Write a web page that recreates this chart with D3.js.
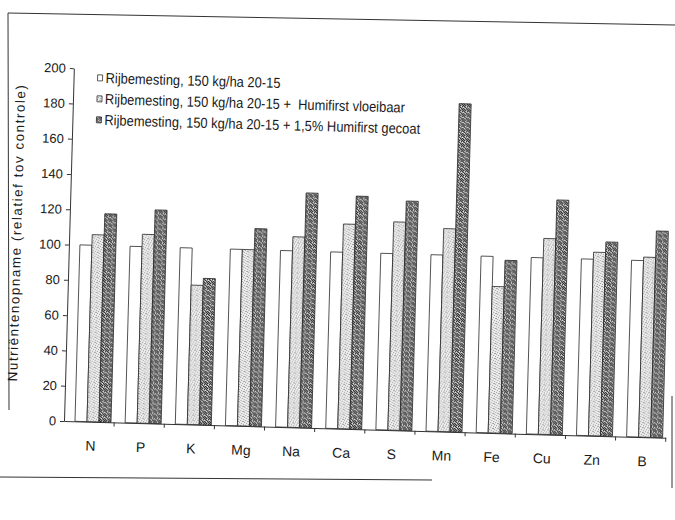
<!DOCTYPE html>
<html>
<head>
<meta charset="utf-8">
<script src="https://cdn.jsdelivr.net/npm/d3@7"></script>
<style>
  body { margin: 0; background: #fff; }
  svg text { font-family: "Liberation Sans", Arial, sans-serif; fill: #1a1a1a; }
</style>
</head>
<body>
<div id="chart"></div>
<script>
// categories (nutrients) and the three series
var categories = ["N", "P", "K", "Mg", "Na", "Ca", "S", "Mn", "Fe", "Cu", "Zn", "B"];
var seriesNames = [
  "Rijbemesting, 150 kg/ha 20-15",
  "Rijbemesting, 150 kg/ha 20-15 +  Humifirst vloeibaar",
  "Rijbemesting, 150 kg/ha 20-15 + 1,5% Humifirst gecoat"
];
var basis      = [100, 100, 100, 100, 100, 100, 100, 100, 100, 100, 100, 100];
var vloeibaar  = [106, 107, 79, 100, 108, 116, 118, 115, 83, 111, 104, 102];
var gecoat     = [118, 121, 83, 112, 133, 132, 130, 186, 98, 133, 110, 117];
var yTicks     = [0, 20, 40, 60, 80, 100, 120, 140, 160, 180, 200];
var yLabel     = "Nutriëntenopname (relatief tov controle)";

var seriesValues = [basis, vloeibaar, gecoat];

// flatten for the bars
var data = [];
categories.forEach(function(c, i) {
  seriesValues.forEach(function(vals, s) {
    data.push({cat: c, series: s, value: vals[i]});
  });
});

var W = 675, H = 520;
var origin = {x: 64, y: 421};

var svg = d3.select("#chart")
  .append("svg")
  .attr("width", W)
  .attr("height", H);

// stipple patterns like the printed greys
var defs = svg.append("defs");
var light = defs.append("pattern")
  .attr("id", "pLight").attr("patternUnits", "userSpaceOnUse")
  .attr("width", 5).attr("height", 5);
light.append("rect").attr("width", 5).attr("height", 5).attr("fill", "#ececec");
[[0,0],[2,1],[4,2],[1,3],[3,4],[3,1]].forEach(function(p) {
  light.append("rect").attr("x", p[0]).attr("y", p[1]).attr("width", 1).attr("height", 1).attr("fill", "#a0a0a0");
});

var dark = defs.append("pattern")
  .attr("id", "pDark").attr("patternUnits", "userSpaceOnUse")
  .attr("width", 5).attr("height", 5);
dark.append("rect").attr("width", 5).attr("height", 5).attr("fill", "#999999");
[[0,0],[3,0],[1,1],[4,2],[2,2],[0,3],[3,3],[1,4],[4,4]].forEach(function(p) {
  dark.append("rect").attr("x", p[0]).attr("y", p[1]).attr("width", 1).attr("height", 1).attr("fill", "#2a2a2a");
});
[[2,0],[1,2],[4,1]].forEach(function(p) {
  dark.append("rect").attr("x", p[0]).attr("y", p[1]).attr("width", 1).attr("height", 1).attr("fill", "#eeeeee");
});

var fills = ["#ffffff", "url(#pLight)", "url(#pDark)"];

// page frame of the scan
var frame = svg.append("g").attr("stroke", "#333").attr("stroke-width", 1).attr("fill", "none");
frame.append("line").attr("x1", 8).attr("y1", 13).attr("x2", 675).attr("y2", 25);
frame.append("line").attr("x1", 8).attr("y1", 13).attr("x2", 9).attr("y2", 410);
frame.append("line").attr("x1", 0).attr("y1", 477).attr("x2", 432).attr("y2", 480);
frame.append("line").attr("x1", 672).attr("y1", 396).attr("x2", 672).attr("y2", 488);

// the whole chart is a little skewed on the scan
var g = svg.append("g")
  .attr("transform", "rotate(1.6," + origin.x + "," + origin.y + ")");

var x = d3.scaleBand()
  .domain(categories)
  .range([origin.x, 666])
  .padding(0);

var xs = d3.scaleBand()
  .domain([0, 1, 2])
  .range([11, 47])
  .padding(0);

var y = d3.scaleLinear()
  .domain([0, 200])
  .range([origin.y, 68]);

// bars
g.selectAll("rect.bar")
  .data(data)
  .enter()
  .append("rect")
    .attr("class", "bar")
    .attr("x", function(d) { return x(d.cat) + xs(d.series); })
    .attr("y", function(d) { return y(d.value); })
    .attr("width", xs.bandwidth())
    .attr("height", function(d) { return y(0) - y(d.value); })
    .attr("fill", function(d) { return fills[d.series]; })
    .attr("stroke", "#2a2a2a")
    .attr("stroke-width", 0.8);

// y axis
var yAxis = g.append("g")
  .attr("transform", "translate(" + origin.x + ",0)")
  .call(d3.axisLeft(y).tickValues(yTicks).tickSize(4).tickSizeOuter(0).tickPadding(4));
yAxis.selectAll("text").style("font-size", "13px");
yAxis.selectAll("line, path").attr("stroke", "#333");

// x axis: labels under each group, short ticks between groups
var xAxis = g.append("g")
  .attr("transform", "translate(0," + origin.y + ")")
  .call(d3.axisBottom(x).tickSize(0).tickPadding(19).tickSizeOuter(0));
xAxis.selectAll("text").style("font-size", "14px").attr("dx", 2);
xAxis.select(".domain").attr("stroke", "#333");
g.selectAll("line.sep")
  .data(categories.slice(1).concat(["end"]))
  .enter()
  .append("line")
    .attr("class", "sep")
    .attr("x1", function(d) { return d === "end" ? x.range()[1] : x(d); })
    .attr("x2", function(d) { return d === "end" ? x.range()[1] : x(d); })
    .attr("y1", origin.y)
    .attr("y2", origin.y + 4)
    .attr("stroke", "#333");

// y axis title
g.append("text")
  .attr("transform", "translate(16,234) rotate(-90)")
  .attr("text-anchor", "middle")
  .style("font-size", "13.5px")
  .style("letter-spacing", "1.5px")
  .text(yLabel);

// legend
var legend = g.selectAll("g.leg")
  .data(seriesNames)
  .enter()
  .append("g")
    .attr("class", "leg")
    .attr("transform", function(d, i) { return "translate(88," + (77 + i * 21) + ")"; });
legend.append("rect")
  .attr("x", 0).attr("y", -3)
  .attr("width", 5).attr("height", 6)
  .attr("fill", function(d, i) { return fills[i]; })
  .attr("stroke", "#333").attr("stroke-width", 0.8);
legend.append("text")
  .attr("transform", "translate(8,0) scale(0.89,1)")
  .attr("dy", "0.35em")
  .style("font-size", "14.5px")
  .style("white-space", "pre")
  .text(function(d) { return d; });
</script>
</body>
</html>
